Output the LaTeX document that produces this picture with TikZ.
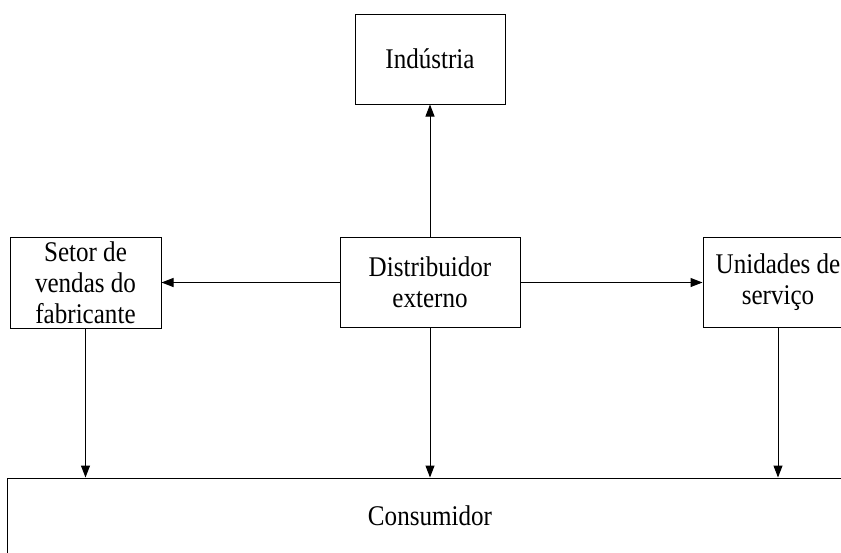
\documentclass[tikz,border=0pt]{standalone}
\usepackage{fontspec}
\setmainfont[FakeStretch=0.88]{Liberation Serif}
\usetikzlibrary{arrows.meta}

\tikzset{
  box/.style={draw, line width=1pt, align=center, inner sep=0pt,
    font=\fontsize{28.5}{31}\selectfont},
  flow/.style={line width=1pt, -{Triangle[length=12pt,width=9pt]}}
}

\begin{document}
\begin{tikzpicture}[x=1pt, y=-1pt]
	\useasboundingbox (0,0) rectangle (841,552);
	\clip (0,0) rectangle (841,552);

	% boxes
	\node[box, minimum width=150pt, minimum height=90pt] (ind) at (430,59) {Indústria};
	\node[box, minimum width=180pt, minimum height=90pt] (dist) at (430,282.5) {Distribuidor\\externo};
	\node[box, minimum width=151pt, minimum height=91pt] (setor) at (85.5,282.5) {Setor de\\vendas do\\fabricante};
	\node[box, minimum width=150pt, minimum height=90pt] (unid) at (778,282.5) {Unidades de\\serviço};
	\node[box, minimum width=846pt, minimum height=76pt] (cons) at (430,516) {Consumidor};

	% arrows
	\draw[flow] (dist.north) -- (ind.south);
	\draw[flow] (dist.west) -- (setor.east);
	\draw[flow] (dist.east) -- (unid.west);

	\draw[flow] (setor.south) -- (setor.south |- cons.north);
	\draw[flow] (dist.south) -- (cons.north);
	\draw[flow] (unid.south) -- (unid.south |- cons.north);
\end{tikzpicture}
\end{document}
